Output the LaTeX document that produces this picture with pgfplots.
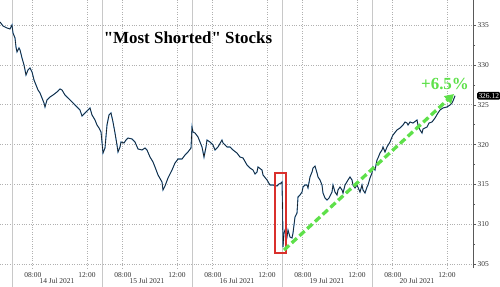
\documentclass[border=0pt]{standalone}
\usepackage{fontspec}
\setmainfont{Liberation Serif}
\usepackage{pgfplots}
\usepackage{pgfplotstable}
\pgfplotsset{compat=1.18}
\usetikzlibrary{arrows.meta}
\definecolor{lineblue}{HTML}{4A92D2}
\definecolor{arrowgreen}{HTML}{5EE04A}
\definecolor{boxred}{HTML}{D9302C}
\definecolor{gridgray}{HTML}{B0B0B0}
\definecolor{sepgray}{HTML}{C8C8C8}
\definecolor{ticktext}{HTML}{333333}

% x: trading-time index (90 units per session; 0 = 14 Jul open), y: index level
\pgfplotstableread{
x y
-12 335.38
-9 334.87
-5 334.62
-2 334.50
0 335.00
1 334.00
3 333.37
4 332.24
5 331.62
7 332.12
8 331.87
10 330.86
12 329.99
14 328.73
16 329.36
18 329.61
20 329.11
22 328.11
24 327.48
26 326.85
28 326.48
30 325.85
32 325.22
33 324.72
35 325.60
38 325.97
41 326.22
45 326.60
48 326.98
50 326.85
53 326.22
56 325.85
60 325.35
65 324.72
68 324.34
70 323.59
73 323.97
76 324.34
78 324.60
80 323.72
83 323.09
85 322.46
87 322.09
89 321.59
90 320.33
91 318.95
93 319.58
95 322.46
97 323.72
99 323.97
101 322.84
103 321.46
105 319.96
106 319.08
108 319.71
109 320.33
112 320.21
114 320.58
116 320.83
120 320.71
123 320.33
126 319.46
130 319.33
133 319.58
135 319.33
138 318.45
141 317.83
143 317.20
146 316.20
150 315.32
151 314.32
153 314.82
156 315.82
160 316.82
163 317.70
166 318.20
170 318.20
173 318.70
176 319.08
179 319.58
180 322.21
181 321.59
183 321.46
186 320.96
190 319.71
192 318.45
194 319.71
195 320.58
198 320.33
201 319.96
203 319.33
206 319.71
210 320.58
211 320.21
215 319.71
218 319.71
221 319.33
225 318.95
228 318.45
231 318.33
235 317.45
238 317.07
241 316.82
243 316.32
245 316.57
246 317.20
250 316.82
251 316.20
255 315.57
258 314.94
261 314.94
265 314.82
267 315.07
269 315.19
270 315.32
270.5 312.44
271 307.17
272 308.92
273 309.30
275 308.42
276 309.30
278 308.42
280 308.30
281 308.92
283 310.93
285 311.43
286 313.44
288 313.69
290 314.06
291 314.69
293 314.94
295 314.94
296 314.57
298 315.95
300 316.57
301 317.07
303 317.32
305 316.45
306 315.95
308 315.57
310 314.94
311 313.94
313 313.31
315 313.06
317 313.31
320 314.06
321 314.94
323 314.06
325 313.69
326 314.32
328 314.69
330 314.32
331 313.94
333 314.94
336 315.57
338 315.95
340 315.57
341 314.94
343 314.57
345 314.94
348 314.06
350 314.94
351 314.32
353 313.94
355 314.69
356 314.94
358 315.82
360 316.45
361 317.20
363 316.82
365 318.08
366 318.33
368 318.95
370 319.33
371 319.71
373 319.08
375 319.71
378 320.33
380 320.96
381 321.21
385 321.84
388 322.09
391 322.46
393 322.84
395 322.71
396 322.46
398 322.84
401 322.71
405 323.09
406 322.46
408 321.84
410 321.46
411 321.96
413 322.09
415 322.21
417 322.71
420 322.84
423 323.34
426 323.97
428 324.34
431 324.60
435 324.72
438 324.97
440 325.22
441 325.47
443 326.12
}\datatable

\begin{document}
\begin{tikzpicture}
\begin{axis}[
  scale only axis, width=473bp, height=268bp,
  at={(0,0)}, anchor=south west,
  xmin=-12, xmax=461, ymin=304.54, ymax=338.13,
  clip=false,
  axis x line*=bottom, axis y line*=right,
  axis line style={-},
  x axis line style={draw=none},
  y axis line style={draw=black!65, line width=0.6bp},
  xtick={20.8,75,110.8,165,200.8,255,290.8,345,380.8,435},
  xticklabels={08:00,12:00,08:00,12:00,08:00,12:00,08:00,12:00,08:00,12:00},
  extra x ticks={45,135,225,315,405},
  extra x tick labels={14 Jul 2021,15 Jul 2021,16 Jul 2021,19 Jul 2021,20 Jul 2021},
  extra x tick style={grid=none, major tick length=0pt, tick label style={yshift=-8.5bp}},
  x tick style={draw=none},
  xticklabel style={font=\fontsize{7.5}{8}\selectfont, text=ticktext, inner sep=1.5bp},
  xmajorgrids, ymajorgrids,
  grid style={gridgray, dotted, line width=0.7bp},
  ytick={305,310,...,335},
  minor y tick num=1,
  tick align=outside,
  y tick style={black!65, line width=0.5bp},
  major tick length=3bp, minor tick length=2bp,
  yticklabel style={font=\fontsize{7.5}{8}\selectfont, text=ticktext, inner sep=1.5bp},
  /pgf/number format/assume math mode=true,
]
\pgfplotsinvokeforeach{0,90,180,270,360}{
  \draw[sepgray, line width=0.8bp] (axis cs:#1,338.13) -- ([yshift=-19bp]axis cs:#1,304.54);
}
\addplot[lineblue, line width=1.1bp, mark=none] table {\datatable};
\addplot[black!90, line width=0.6bp, mark=none] table {\datatable};
\draw[boxred, line width=1.3bp] (axis cs:263,316.45) rectangle (axis cs:274,306.42);
\draw[arrowgreen, line width=3.3bp, dash pattern=on 7bp off 3.5bp, -{Triangle[length=9bp,width=10bp]}]
  (axis cs:272,306.79) -- (axis cs:442,326.35);
\node[arrowgreen, font=\bfseries\fontsize{17}{19}\selectfont] at (axis cs:433,327.6) {+6.5\%};
\node[font=\bfseries\fontsize{17}{20}\selectfont] at (axis cs:176,333.37) {\textquotedbl Most Shorted\textquotedbl{} Stocks};
\node[fill=black, text=white, rounded corners=1.5bp, inner sep=1.3bp, anchor=west,
  font=\fontsize{7.5}{8}\selectfont] at ([xshift=4bp]axis cs:461,326.12) {326.12};
\end{axis}
\pgfresetboundingbox
\useasboundingbox (0,-19bp) rectangle (500bp,268bp);
\end{tikzpicture}
\end{document}
